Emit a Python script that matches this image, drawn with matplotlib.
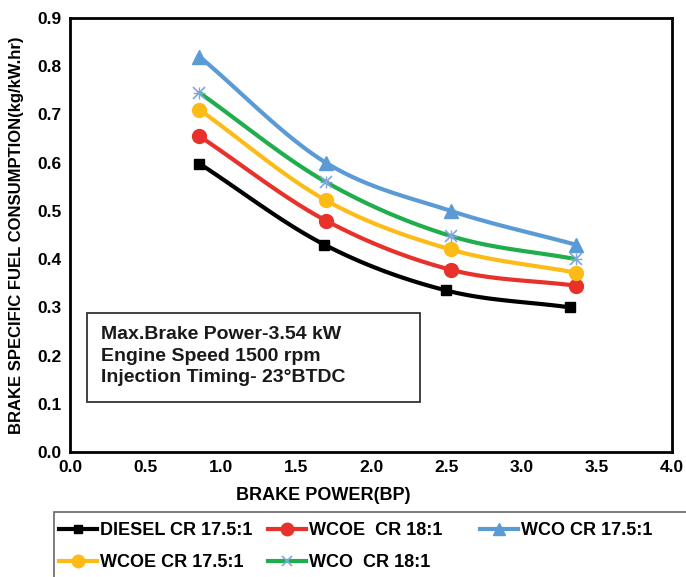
import numpy as np
import matplotlib
matplotlib.use("Agg")
import matplotlib.pyplot as plt
from matplotlib.lines import Line2D
from matplotlib.patches import Rectangle

plt.rcParams['font.family'] = ['Liberation Sans', 'DejaVu Sans']

# Brake power (kW) and BSFC (kg/kW.hr) for each fuel / compression ratio
bp_diesel = [0.86, 1.69, 2.50, 3.32]
bp_blend = [0.86, 1.70, 2.53, 3.36]
diesel_175 = [0.598, 0.430, 0.335, 0.300]
wcoe_18 = [0.655, 0.480, 0.378, 0.345]
wco_175 = [0.820, 0.600, 0.500, 0.430]
wcoe_175 = [0.710, 0.522, 0.420, 0.372]
wco_18 = [0.745, 0.560, 0.448, 0.400]

series = [
    ("DIESEL CR 17.5:1", bp_diesel, diesel_175, "#000000", "s", 7),
    ("WCOE  CR 18:1", bp_blend, wcoe_18, "#e8312a", "o", 10),
    ("WCO CR 17.5:1", bp_blend, wco_175, "#5b9bd5", "^", 10),
    ("WCOE CR 17.5:1", bp_blend, wcoe_175, "#fdbb18", "o", 10),
    ("WCO  CR 18:1", bp_blend, wco_18, "#1fae4b", "x", 8),
]
STAR = "#7fa6dd"


def smooth(x, y, n=40):
    """Catmull-Rom curve through the given points (spreadsheet-style smoothing)."""
    x = np.asarray(x, float)
    y = np.asarray(y, float)
    px = np.concatenate([[2 * x[0] - x[1]], x, [2 * x[-1] - x[-2]]])
    py = np.concatenate([[2 * y[0] - y[1]], y, [2 * y[-1] - y[-2]]])
    xs, ys = [], []
    t = np.linspace(0, 1, n)
    for i in range(1, len(px) - 2):
        for p, out in ((px, xs), (py, ys)):
            p0, p1, p2, p3 = p[i - 1], p[i], p[i + 1], p[i + 2]
            out.append(0.5 * ((2 * p1) + (-p0 + p2) * t
                              + (2 * p0 - 5 * p1 + 4 * p2 - p3) * t ** 2
                              + (-p0 + 3 * p1 - 3 * p2 + p3) * t ** 3))
    return np.concatenate(xs), np.concatenate(ys)


W, H = 686, 577
fig = plt.figure(figsize=(W / 100, H / 100), dpi=100)
ax = fig.add_axes([70 / W, 1 - 452 / H, (672 - 70) / W, (452 - 18) / H])

handles = []
for label, xs, ys, color, mk, ms in series:
    sx, sy = smooth(xs, ys)
    ax.plot(sx, sy, color=color, lw=3, solid_capstyle='round', zorder=2)
    if mk == "x":
        ax.plot(xs, ys, linestyle='none', marker='x', ms=ms, mew=1.2,
                color=STAR, zorder=3)
        ax.plot(xs, ys, linestyle='none', marker='+', ms=ms + 1, mew=1.0,
                color=STAR, zorder=3)
        h = Line2D([], [], color=color, lw=3, marker='x', ms=7, mew=1.2,
                   markeredgecolor=STAR)
    else:
        ax.plot(xs, ys, linestyle='none', marker=mk, ms=ms, color=color, zorder=3)
        h = Line2D([], [], color=color, lw=3, marker=mk, ms=ms - 1)
    handles.append((h, label))

ax.set_xlim(0, 4.0)
ax.set_ylim(0, 0.9)
ax.set_xticks(np.arange(0, 4.01, 0.5))
ax.set_yticks(np.arange(0, 0.91, 0.1))
ax.xaxis.set_major_formatter(matplotlib.ticker.FormatStrFormatter('%.1f'))
ax.yaxis.set_major_formatter(matplotlib.ticker.FormatStrFormatter('%.1f'))
ax.tick_params(length=0, labelsize=12.5, pad=6)
for lab in ax.get_xticklabels() + ax.get_yticklabels():
    lab.set_fontweight('bold')
for sp in ax.spines.values():
    sp.set_linewidth(2)

ax.set_xlabel("BRAKE POWER(BP)", fontsize=13, fontweight='bold')
ax.xaxis.set_label_coords((323 - 70) / 602, -0.08)
ax.set_ylabel("BRAKE SPECIFIC FUEL CONSUMPTION(kg/kW.hr)", fontsize=12,
              fontweight='bold', labelpad=10)

# Operating conditions box
ax.add_patch(Rectangle((0.113, 0.1035), 2.21, 0.1845, facecolor='white',
                       edgecolor='#333333', lw=1.3, zorder=4))
ax.text(0.205, 0.199,
        "Max.Brake Power-3.54 kW\nEngine Speed 1500 rpm\nInjection Timing- 23°BTDC",
        fontsize=14, fontweight='bold', va='center', ha='left',
        linespacing=1.32, color='#1a1a1a', zorder=5)

# Legend below the plot: frame plus three columns
fig.add_artist(Rectangle((54 / W, 1 - 600 / H), 650 / W, 88 / H,
                         transform=fig.transFigure, facecolor='white',
                         edgecolor='#666666', lw=1.2, zorder=1))
columns = [[0, 3], [1, 4], [2]]
col_x = [59, 268, 480]
for cx, idx in zip(col_x, columns):
    leg = fig.legend([handles[i][0] for i in idx], [handles[i][1] for i in idx],
                     loc='upper left', bbox_to_anchor=(cx / W, 1 - 522 / H),
                     frameon=False, prop=dict(size=13, weight='bold'),
                     handlelength=2.1, handletextpad=0.15, borderaxespad=0,
                     borderpad=0, labelspacing=0.85)
    leg.set_zorder(2)

fig.savefig("out.png", dpi=100)
